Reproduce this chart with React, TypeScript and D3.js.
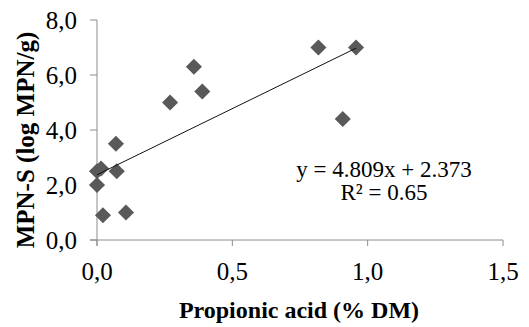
import React from "react";
import * as d3 from "d3";

const xValues = [0.0, 0.015, 0.0, 0.022, 0.107, 0.07, 0.073, 0.27, 0.358, 0.389, 0.818, 0.957, 0.908];
const yValues = [2.5, 2.6, 2.0, 0.9, 1.0, 3.5, 2.5, 5.0, 6.3, 5.4, 7.0, 7.0, 4.4];
const xTicks = [0, 0.5, 1.0, 1.5];
const yTicks = [0, 2, 4, 6, 8];
const slope = 4.809;
const intercept = 2.373;
const eqLines = ["y = 4.809x + 2.373", "R² = 0.65"];

const W = 529;
const H = 327;
const FONT = "Liberation Serif, Times New Roman, Tinos, DejaVu Serif, serif";

export default function App() {
  const x = d3.scaleLinear().domain([0, 1.5]).range([97, 503]);
  const y = d3.scaleLinear().domain([0, 8]).range([240, 20]);
  const fmt = (v: number) => v.toFixed(1).replace(".", ",");
  const diamond = d3.symbol().type(d3.symbolDiamond2 as any).size(165);
  const xmin = d3.min(xValues) as number;
  const xmax = d3.max(xValues) as number;
  const line = d3.line<number>().x((d) => x(d)).y((d) => y(slope * d + intercept));
  const axisColor = "#8c8c8c";
  const ts = { fontFamily: FONT } as React.CSSProperties;
  return (
    <svg width={W} height={H} style={{ position: "absolute", left: 0, top: 0, fontFamily: FONT }}>
      <rect width={W} height={H} fill="#fff" />
      <line x1={x(0)} x2={x(0)} y1={y(8)} y2={246} stroke={axisColor} strokeWidth={1} />
      <line x1={90} x2={x(1.5)} y1={y(0)} y2={y(0)} stroke={axisColor} strokeWidth={1} />
      {yTicks.map((t) => (
        <g key={"y" + t}>
          <line x1={90} x2={x(0)} y1={y(t)} y2={y(t)} stroke={axisColor} />
          <text x={77} y={y(t)} dy="0.35em" textAnchor="end" fontSize={25} fill="#000" style={ts}>
            {fmt(t)}
          </text>
        </g>
      ))}
      {xTicks.map((t) => (
        <g key={"x" + t}>
          <line x1={x(t)} x2={x(t)} y1={y(0)} y2={246} stroke={axisColor} />
          <text x={x(t)} y={280} textAnchor="middle" fontSize={25} fill="#000" style={ts}>
            {fmt(t)}
          </text>
        </g>
      ))}
      {xValues.map((xv, i) => (
        <path
          key={i}
          d={diamond() as string}
          transform={`translate(${x(xv)},${y(yValues[i])})`}
          fill="#595959"
        />
      ))}
      <path d={line([xmin, xmax]) as string} stroke="#111" strokeWidth={1} fill="none" />
      {eqLines.map((s, i) => (
        <text key={s} x={384} y={177 + i * 23} textAnchor="middle" fontSize={23} fill="#000" style={ts}>
          {s}
        </text>
      ))}
      <text x={299} y={318} textAnchor="middle" fontSize={24} fontWeight="bold" fill="#000" style={ts}>
        Propionic acid (% DM)
      </text>
      <text
        transform={`translate(34,140) rotate(-90)`}
        textAnchor="middle"
        fontSize={25}
        fontWeight="bold"
        fill="#000"
        style={ts}
      >
        MPN-S (log MPN/g)
      </text>
    </svg>
  );
}
